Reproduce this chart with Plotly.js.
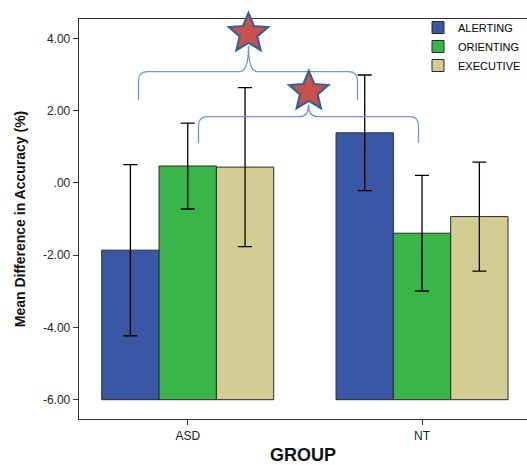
<!DOCTYPE html>
<html>
<head>
<meta charset="utf-8">
<script src="https://cdn.plot.ly/plotly-3.0.1.min.js"></script>
<style>html,body{margin:0;padding:0;background:#fff;}#chart{width:527px;height:465px;}</style>
</head>
<body>
<div id="chart"></div>
<script>
// ---- data ----
var groups = ['ASD', 'NT'];
var seriesNames = ['ALERTING', 'ORIENTING', 'EXECUTIVE'];
var alerting = [-1.86, 1.39];
var orienting = [0.47, -1.39];
var executive = [0.44, -0.93];
var alertingErr = [2.37, 1.60];
var orientingErr = [1.19, 1.60];
var executiveErr = [2.20, 1.51];
var yTickVals = [4, 2, 0, -2, -4, -6];
var yTickText = ['4.00', '2.00', '.00', '-2.00', '-4.00', '-6.00'];
var BASE = -6;

var colors = ['#3A57A5', '#3AB54A', '#D3CD94'];
var values = [alerting, orienting, executive];
var errs = [alertingErr, orientingErr, executiveErr];

var FONT = 'Liberation Sans, Arial, sans-serif';

var traces = seriesNames.map(function (name, i) {
  return {
    type: 'bar',
    name: name,
    x: groups,
    y: values[i].map(function (v) { return v - BASE; }),
    base: BASE,
    marker: { color: colors[i], line: { color: '#2a2a2a', width: 1 } },
    error_y: { type: 'data', array: errs[i], visible: true, color: '#000000', thickness: 1.3, width: 7 },
    hoverinfo: 'skip'
  };
});

// decorative significance markers (pixel-sized shapes)
function starPath(R, ratio) {
  var pts = [];
  for (var k = 0; k < 10; k++) {
    var a = Math.PI / 2 + k * Math.PI / 5;
    var r = (k % 2 === 0) ? R : R * ratio;
    pts.push((r * Math.cos(a)).toFixed(2) + ',' + (r * Math.sin(a)).toFixed(2));
  }
  return 'M' + pts.join('L') + 'Z';
}
function bracePath(left, right, drop, tip) {
  var c = 9;
  return 'M' + left + ',' + (-drop) +
    ' L' + left + ',' + (-c) +
    ' Q' + left + ',0 ' + (left + c) + ',0' +
    ' L' + (-c) + ',0' +
    ' Q0,0 0,' + tip +
    ' Q0,0 ' + c + ',0' +
    ' L' + (right - c) + ',0' +
    ' Q' + right + ',0 ' + right + ',' + (-c) +
    ' L' + right + ',' + (-drop);
}
function pxShape(path, xp, yp, style) {
  var s = {
    type: 'path', xref: 'paper', yref: 'paper',
    xsizemode: 'pixel', ysizemode: 'pixel',
    xanchor: xp, yanchor: yp, path: path, layer: 'above'
  };
  for (var k in style) s[k] = style[k];
  return s;
}
// plot area: left 79, top 19, width 448, height 400
function px2paperX(p) { return (p - 79) / 448; }
function px2paperY(p) { return (419 - p) / 400; }

var braceStyle = { line: { color: '#7097D0', width: 1.3 }, fillcolor: 'rgba(0,0,0,0)' };
var starStyle = { line: { color: '#3A5F91', width: 2.2 }, fillcolor: '#C9504B' };

var shapes = [
  pxShape(bracePath(-110, 109, 28, 26), px2paperX(248.5), px2paperY(71.7), braceStyle),
  pxShape(bracePath(-110, 110, 26, 12), px2paperX(308.5), px2paperY(116.7), braceStyle),
  pxShape(starPath(20.5, 0.45), px2paperX(248.5), px2paperY(33.5), starStyle),
  pxShape(starPath(20.5, 0.45), px2paperX(308.8), px2paperY(91.5), starStyle)
];

var layout = {
  width: 527, height: 465,
  margin: { l: 79, r: 0, t: 19, b: 46, pad: 0 },
  paper_bgcolor: '#ffffff', plot_bgcolor: '#ffffff',
  font: { family: FONT, color: '#222222', size: 12 },
  barmode: 'group', bargap: 0.266, bargroupgap: 0,
  showlegend: true,
  legend: {
    x: px2paperX(418), y: px2paperY(13), xanchor: 'left', yanchor: 'top',
    bgcolor: 'rgba(0,0,0,0)', borderwidth: 0,
    font: { family: FONT, size: 11, color: '#000000' },
    traceorder: 'normal'
  },
  xaxis: {
    type: 'category',
    range: [-0.464, 1.448],
    showline: true, linecolor: '#333333', linewidth: 1.3, mirror: true,
    ticks: 'outside', ticklen: 5, tickcolor: '#333333', tickwidth: 1,
    showgrid: false, zeroline: false,
    tickfont: { family: FONT, size: 12, color: '#222222' },
    title: { text: '<b>GROUP</b>', font: { family: FONT, size: 18, color: '#111111' }, standoff: 14 }
  },
  yaxis: {
    range: [-6.535, 4.541],
    tickvals: yTickVals, ticktext: yTickText,
    showline: true, linecolor: '#333333', linewidth: 1.3, mirror: false,
    ticks: 'outside', ticklen: 5, tickcolor: '#333333', tickwidth: 1,
    showgrid: false, zeroline: false,
    tickfont: { family: FONT, size: 12, color: '#222222' },
    title: { text: '<b>Mean Difference in Accuracy (%)</b>', font: { family: FONT, size: 14, color: '#111111' }, standoff: 14 }
  },
  shapes: shapes
};

Plotly.newPlot('chart', traces, layout, { displayModeBar: false, staticPlot: true });
</script>
</body>
</html>
